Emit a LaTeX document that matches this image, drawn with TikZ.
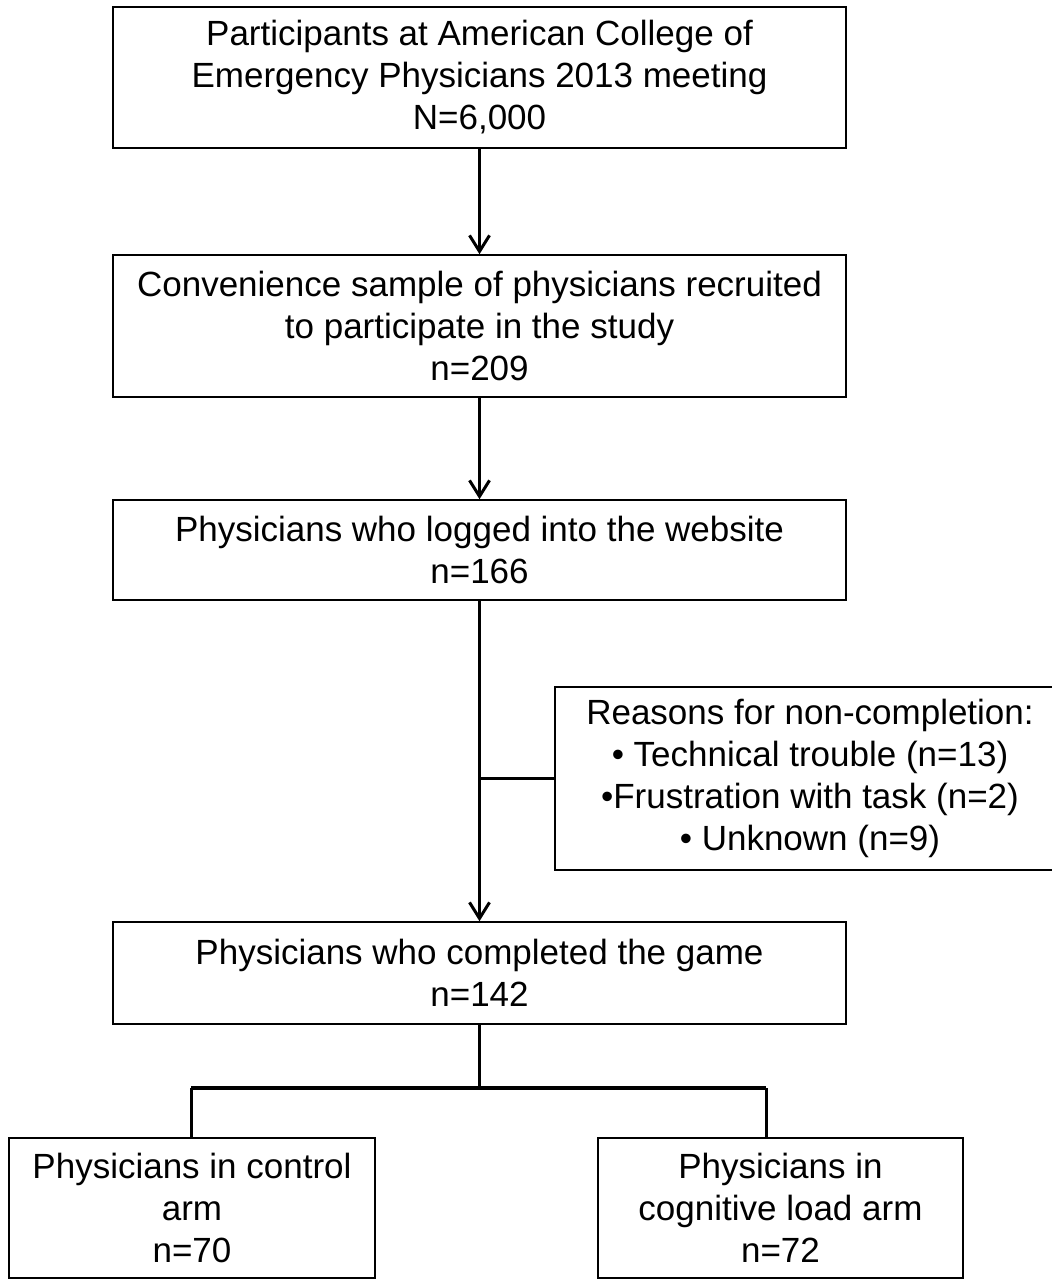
\documentclass[tikz,border=0pt]{standalone}
\usepackage{fontspec}
\setmainfont{Liberation Sans}
\usepackage{tikz}
\usetikzlibrary{arrows.meta}
\tikzstyle{box}=[draw, thick, rectangle, align=center, inner sep=0pt, font=\fontsize{17.5}{21}\selectfont]
\tikzstyle{flow}=[line width=1.5pt, -{Straight Barb[length=8pt,width=10pt,line width=1.5pt]}]

\begin{document}
\begin{tikzpicture}[x=0.5pt, y=-0.5pt]
        \useasboundingbox (0,0) rectangle (1051,1280);

        % Boxes
        \node[box, minimum width=366.5pt, minimum height=70.5pt] (acep) at (479.5,77.5)
            {Participants at American College of\\Emergency Physicians 2013 meeting\\N=6,000};
        \node[box, minimum width=366.5pt, minimum height=71pt] (sample) at (479.5,326)
            {Convenience sample of physicians recruited\\to participate in the study\\n=209};
        \node[box, minimum width=366.5pt, minimum height=50pt] (login) at (479.5,550)
            {Physicians who logged into the website\\n=166};
        \node[box, minimum width=255pt, minimum height=91.5pt] (reasons) at (810,778.5)
            {Reasons for non-completion:\\{\textbullet} Technical trouble (n=13)\\{\textbullet}Frustration with task (n=2)\\{\textbullet} Unknown (n=9)};
        \node[box, minimum width=366.5pt, minimum height=51pt] (done) at (479.5,973)
            {Physicians who completed the game\\n=142};
        \node[box, minimum width=183pt, minimum height=70pt] (control) at (192,1208)
            {Physicians in control\\arm\\n=70};
        \node[box, minimum width=182.5pt, minimum height=70pt] (cogload) at (780.5,1208)
            {Physicians in\\cognitive load arm\\n=72};

        % Connections
        \draw[flow] (acep) -- (sample);
        \draw[flow] (sample) -- (login);
        \draw[flow] (login) -- (done);
        \draw[line width=1.5pt] (login.south |- reasons.west) -- (reasons.west);

        \coordinate (split) at (479.5,1088);
        \coordinate (left drop) at (191,1088);
        \coordinate (right drop) at (766,1088);
        \draw[line width=1.5pt] (done.south) -- (split);
        \draw[line width=2pt] (left drop) -- (right drop);
        \draw[line width=1.5pt] (left drop) -- (left drop |- control.north);
        \draw[line width=1.5pt] (right drop) -- (right drop |- cogload.north);
    \end{tikzpicture}
\end{document}
